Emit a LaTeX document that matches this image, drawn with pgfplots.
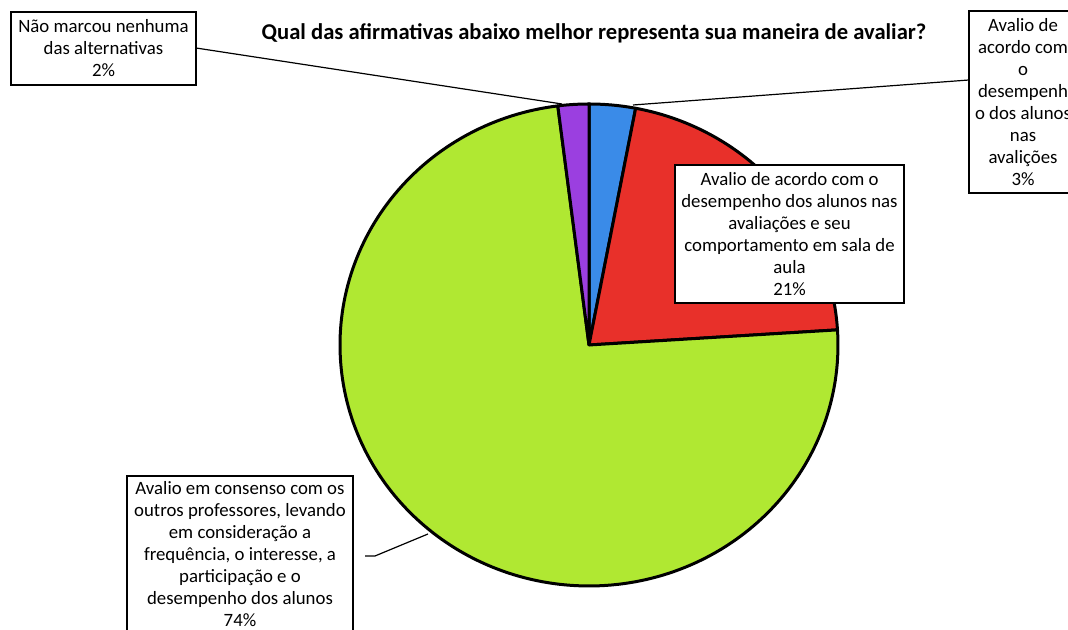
\documentclass[border=0pt]{standalone}
\usepackage{pgfplots}
\pgfplotsset{compat=1.18}
\usepackage{fontspec}
\setmainfont{Carlito}
\definecolor{cblue}{HTML}{3A8BE8}
\definecolor{cred}{HTML}{E8302A}
\definecolor{cgreen}{HTML}{B0E832}
\definecolor{cpurple}{HTML}{9B3FE0}
% shares (percent), clockwise from 12 o'clock
\def\pBlue{3}
\def\pRed{21}
\def\pGreen{74}
\def\pPurple{2}
\begin{document}
\begin{tikzpicture}
\pgfmathsetmacro\aA{90}
\pgfmathsetmacro\aB{\aA-3.6*\pBlue}
\pgfmathsetmacro\aC{\aB-3.6*\pRed}
\pgfmathsetmacro\aD{\aC-3.6*\pGreen}
\pgfmathsetmacro\aE{\aD-3.6*\pPurple}
\begin{axis}[
  width=534pt, height=315pt, scale only axis,
  xmin=0, xmax=1068, ymin=0, ymax=630,
  enlargelimits=false,
  hide axis, clip=false,
]
\coordinate (BL) at (0,0);
\coordinate (TR) at (1068,630);
\addplot[fill=cblue, draw=black, line width=1.5pt, line join=round, domain=\aB:\aA, samples=30, variable=\t]
  ({589+249*cos(\t)},{285+241*sin(\t)}) -- (589,285) -- cycle;
\addplot[fill=cred, draw=black, line width=1.5pt, line join=round, domain=\aC:\aB, samples=60, variable=\t]
  ({589+249*cos(\t)},{285+241*sin(\t)}) -- (589,285) -- cycle;
\addplot[fill=cgreen, draw=black, line width=1.5pt, line join=round, domain=\aD:\aC, samples=200, variable=\t]
  ({589+249*cos(\t)},{285+241*sin(\t)}) -- (589,285) -- cycle;
\addplot[fill=cpurple, draw=black, line width=1.5pt, line join=round, domain=\aE:\aD, samples=20, variable=\t]
  ({589+249*cos(\t)},{285+241*sin(\t)}) -- (589,285) -- cycle;

% leader lines
\draw[black, line width=0.6pt] (196,582) -- (562,526);
\draw[black, line width=0.6pt] (969,550) -- (633,525);
\draw[black, line width=0.6pt] (365,74) -- (375,74) -- (428,96);

% title
\node[font=\fontsize{11.3pt}{13pt}\selectfont\bfseries] at (594,597)
  {Qual das afirmativas abaixo melhor representa sua maneira de avaliar?};

% label boxes
\draw[black, line width=1pt, fill=white] (11,618) rectangle (196,545);
\node[align=center, font=\fontsize{9.4pt}{11pt}\selectfont] at (103.5,581.5)
  {Não marcou nenhuma\\das alternativas\\2\%};

\draw[black, line width=1pt, fill=white] (969,619) rectangle (1085,437);
\node[align=center, font=\fontsize{9.4pt}{11pt}\selectfont] at (1023,528)
  {Avalio de\\acordo com\\o\\desempenh\\o dos alunos\\nas\\avalições\\3\%};

\draw[black, line width=1pt, fill=white] (675,465) rectangle (904,327);
\node[align=center, font=\fontsize{9.4pt}{11pt}\selectfont] at (789.5,396)
  {Avalio de acordo com o\\desempenho dos alunos nas\\avaliações e seu\\comportamento em sala de\\aula\\21\%};

\draw[black, line width=1pt, fill=white] (127,154) rectangle (353,-12);
\node[align=center, font=\fontsize{9.4pt}{11pt}\selectfont] at (240,76)
  {Avalio em consenso com os\\outros professores, levando\\em consideração a\\frequência, o interesse, a\\participação e o\\desempenho dos alunos\\74\%};
\end{axis}
\pgfresetboundingbox
\useasboundingbox (BL) rectangle (TR);
\end{tikzpicture}
\end{document}
